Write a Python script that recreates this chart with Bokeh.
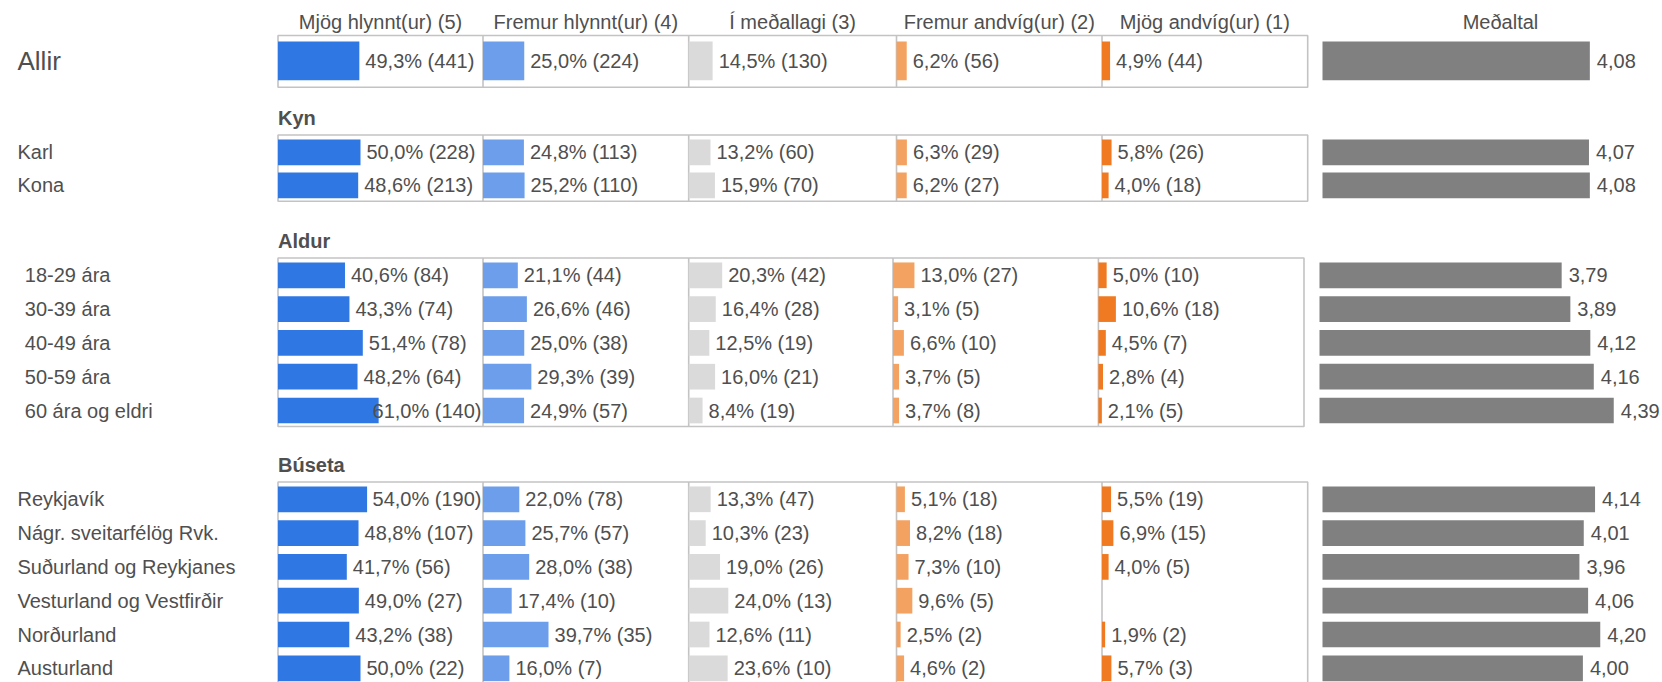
from bokeh.plotting import figure
from bokeh.models import Range1d
from bokeh.embed import file_html
from bokeh.resources import INLINE
from bokeh.core.properties import value

# ---------------- data ----------------
section_titles = ["", "Kyn", "Aldur", "Búseta"]
row_labels = ["Allir", "Karl", "Kona",
              "18-29 ára", "30-39 ára", "40-49 ára", "50-59 ára", "60 ára og eldri",
              "Reykjavík", "Nágr. sveitarfélög Rvk.", "Suðurland og Reykjanes",
              "Vesturland og Vestfirðir", "Norðurland", "Austurland"]
row_section = [0, 1, 1, 2, 2, 2, 2, 2, 3, 3, 3, 3, 3, 3]
column_titles = ["Mjög hlynnt(ur) (5)", "Fremur hlynnt(ur) (4)", "Í meðallagi (3)",
                 "Fremur andvíg(ur) (2)", "Mjög andvíg(ur) (1)"]
mean_title = "Meðaltal"

pct_5 = [49.3, 50.0, 48.6, 40.6, 43.3, 51.4, 48.2, 61.0, 54.0, 48.8, 41.7, 49.0, 43.2, 50.0]
n_5 = [441, 228, 213, 84, 74, 78, 64, 140, 190, 107, 56, 27, 38, 22]
pct_4 = [25.0, 24.8, 25.2, 21.1, 26.6, 25.0, 29.3, 24.9, 22.0, 25.7, 28.0, 17.4, 39.7, 16.0]
n_4 = [224, 113, 110, 44, 46, 38, 39, 57, 78, 57, 38, 10, 35, 7]
pct_3 = [14.5, 13.2, 15.9, 20.3, 16.4, 12.5, 16.0, 8.4, 13.3, 10.3, 19.0, 24.0, 12.6, 23.6]
n_3 = [130, 60, 70, 42, 28, 19, 21, 19, 47, 23, 26, 13, 11, 10]
pct_2 = [6.2, 6.3, 6.2, 13.0, 3.1, 6.6, 3.7, 3.7, 5.1, 8.2, 7.3, 9.6, 2.5, 4.6]
n_2 = [56, 29, 27, 27, 5, 10, 5, 8, 18, 18, 10, 5, 2, 2]
pct_1 = [4.9, 5.8, 4.0, 5.0, 10.6, 4.5, 2.8, 2.1, 5.5, 6.9, 4.0, None, 1.9, 5.7]
n_1 = [44, 26, 18, 10, 18, 7, 4, 5, 19, 15, 5, None, 2, 3]
means = [4.08, 4.07, 4.08, 3.79, 3.89, 4.12, 4.16, 4.39, 4.14, 4.01, 3.96, 4.06, 4.20, 4.00]

col_pcts = [pct_5, pct_4, pct_3, pct_2, pct_1]
col_ns = [n_5, n_4, n_3, n_2, n_1]
col_colors = ["#2f78e4", "#6d9eeb", "#dadada", "#f4a261", "#f07a21"]
mean_color = "#808080"
text_color = "#4f4f4f"
line_color = "#c3c3c3"
FONT = value("Liberation Sans")

# ---------------- layout (screen pixel positions) ----------------
W, H = 1662, 682
OFF_X, OFF_Y = 0, 2
edges_std = [277.5, 482.5, 688.2, 896.0, 1101.5, 1307.2]
edges_age = [277.5, 482.5, 688.2, 892.5, 1097.9, 1303.5]
sec_edges = [edges_std, edges_std, edges_age, edges_std]
sec_mean_left = [1322, 1322, 1319, 1322]
sec_first = [62.3, 153.8, 276.8, 500.8]
sec_step = [33.0, 33.0, 33.8, 33.8]
sec_bar_h = [38.7, 25.7, 25.7, 25.7]
sec_pad_top = [25.3, 17.3, 17.3, 17.3]
sec_pad_bottom = [26.4, 16.0, 16.0, 16.0]
sec_label_x = [17, 17, 24.3, 17]
PX_PCT = 1.65
PX_MEAN = 86.8

CW = {str(d): 0.556 for d in range(10)}
CW.update({",": 0.278, "%": 0.889, " ": 0.278, "(": 0.333, ")": 0.333})


def text_w(s, size=20):
    return sum(CW.get(c, 0.556) for c in s) * size


def fmt1(v):
    return f"{v:.1f}".replace(".", ",")


p = figure(width=W, height=H, output_backend="svg", toolbar_location=None,
           x_range=Range1d(0, W), y_range=Range1d(H, 0),
           x_axis_type=None, y_axis_type=None, min_border=0)
p.grid.visible = False
p.outline_line_color = None
p.background_fill_color = "white"
p.border_fill_color = "white"

# row positions
row_y = []
counter = {}
for s in row_section:
    i = counter.get(s, 0)
    counter[s] = i + 1
    row_y.append(sec_first[s] + i * sec_step[s] - OFF_Y)

n_sections = len(section_titles)

# ranges: one per column and section, mapping values onto the frame
ranges = {}
for s in range(n_sections):
    for k in range(5):
        L = sec_edges[s][k] - OFF_X
        ranges[f"s{s}c{k}"] = Range1d(-L / PX_PCT, (W - L) / PX_PCT)
    Lm = sec_mean_left[s] - OFF_X
    ranges[f"s{s}m"] = Range1d(1 - Lm / PX_MEAN, 1 + (W - Lm) / PX_MEAN)
p.extra_x_ranges = ranges

for s in range(n_sections):
    idx = [i for i, r in enumerate(row_section) if r == s]
    top = row_y[idx[0]] - sec_pad_top[s]
    bottom = row_y[idx[-1]] + sec_pad_bottom[s]
    e = [x - OFF_X for x in sec_edges[s]]
    p.quad(left=[e[0]], right=[e[-1]], top=[top], bottom=[bottom],
           fill_color=None, line_color=line_color, line_width=1.6)
    p.segment(x0=e[1:-1], x1=e[1:-1], y0=[top] * 4, y1=[bottom] * 4,
              line_color=line_color, line_width=1.6)
    if section_titles[s]:
        p.text(x=[e[0]], y=[top - 17], text=[section_titles[s]], text_font=FONT,
               text_font_size="20px", text_font_style="bold", text_color=text_color,
               text_baseline="middle", text_align="left")
    # row labels
    p.text(x=[sec_label_x[s] - OFF_X] * len(idx), y=[row_y[i] for i in idx],
           text=[row_labels[i] for i in idx], text_font=FONT,
           text_font_size="26px" if s == 0 else "20px", text_color=text_color,
           text_baseline="middle", text_align="left")

    # percent bars
    for k in range(5):
        name = f"s{s}c{k}"
        ys, vs, lx, ly, lt, rx, ry, rt = [], [], [], [], [], [], [], []
        col_w = sec_edges[s][k + 1] - sec_edges[s][k]
        for i in idx:
            v = col_pcts[k][i]
            if v is None:
                continue
            ys.append(row_y[i])
            vs.append(v)
            t = f"{fmt1(v)}% ({col_ns[k][i]})"
            start_px = v * PX_PCT + 6
            if start_px + text_w(t) > col_w - 1.5:
                rx.append((col_w - 1.5) / PX_PCT)
                ry.append(row_y[i])
                rt.append(t)
            else:
                lx.append(v + 6 / PX_PCT)
                ly.append(row_y[i])
                lt.append(t)
        p.hbar(y=ys, left=0, right=vs, height=sec_bar_h[s], x_range_name=name,
               fill_color=col_colors[k], line_color=None)
        if lt:
            p.text(x=lx, y=ly, text=lt, x_range_name=name, text_font=FONT,
                   text_font_size="20px", text_color=text_color,
                   text_baseline="middle", text_align="left")
        if rt:
            p.text(x=rx, y=ry, text=rt, x_range_name=name, text_font=FONT,
                   text_font_size="20px", text_color=text_color,
                   text_baseline="middle", text_align="right")

    # mean bars
    name = f"s{s}m"
    mv = [means[i] for i in idx]
    p.hbar(y=[row_y[i] for i in idx], left=1, right=mv, height=sec_bar_h[s],
           x_range_name=name, fill_color=mean_color, line_color=None)
    p.text(x=[m + 7 / PX_MEAN for m in mv], y=[row_y[i] for i in idx],
           text=[f"{m:.2f}".replace(".", ",") for m in mv], x_range_name=name,
           text_font=FONT, text_font_size="20px", text_color=text_color,
           text_baseline="middle", text_align="left")

# column titles
e0 = edges_std
p.text(x=[(e0[k] + e0[k + 1]) / 2 - OFF_X for k in range(5)] + [1500 - OFF_X],
       y=[23 - OFF_Y] * 6, text=column_titles + [mean_title], text_font=FONT,
       text_font_size="20px", text_color=text_color, text_baseline="middle",
       text_align="center")

open("out.html", "w").write(file_html(p, INLINE))
